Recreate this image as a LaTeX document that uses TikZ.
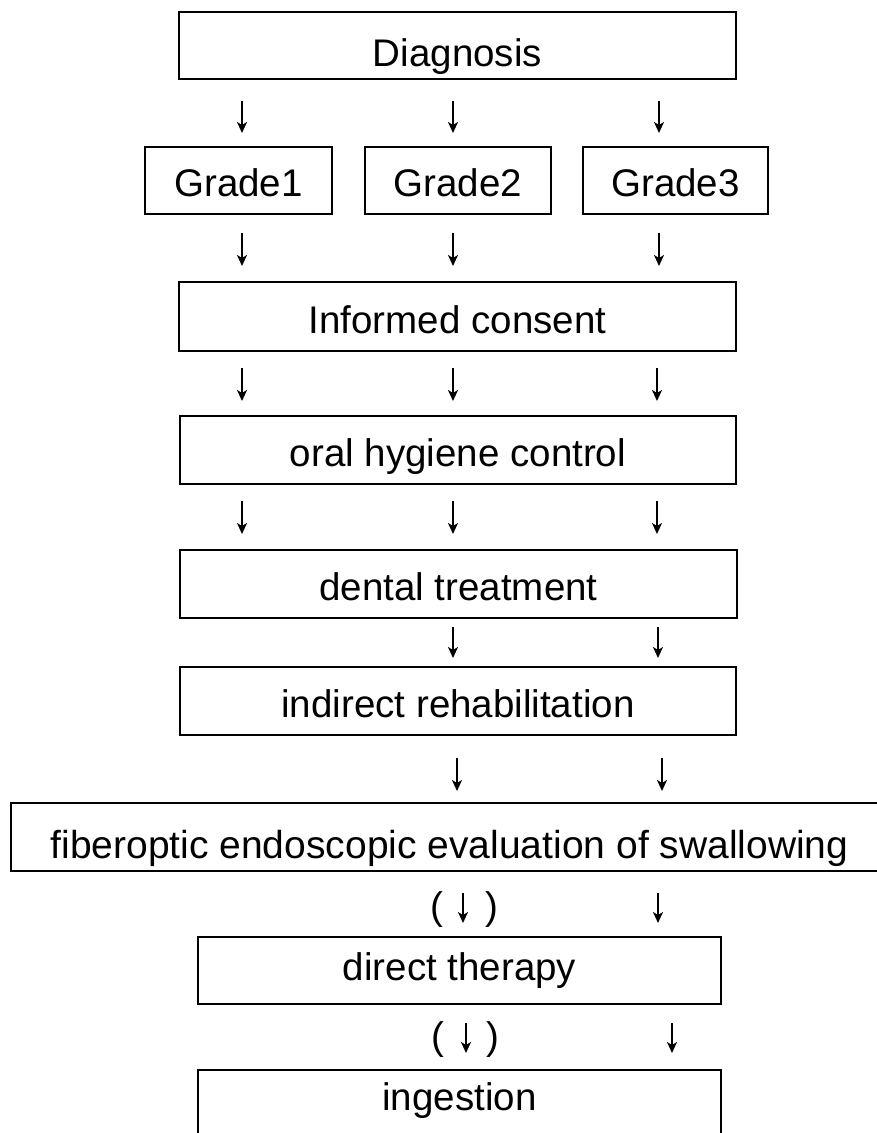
\documentclass[tikz,border=0pt]{standalone}
\usepackage{fontspec}
\setmainfont{Liberation Sans}
\usetikzlibrary{arrows.meta}
\begin{document}
\begin{tikzpicture}[x=1pt,y=-1pt,
  box/.style={draw, line width=2pt, inner sep=0pt, text depth=0pt,
    font=\fontsize{38.5}{40}\selectfont},
  arr/.style={line width=1.8pt, -{Stealth[length=11pt,width=10pt,inset=3pt]}},
  par/.style={inner sep=0pt, font=\fontsize{38.5}{40}\selectfont}]
\useasboundingbox[fill=white] (0,0) rectangle (877,1133);
% boxes
\node[box, minimum width=557pt, minimum height=67pt, text height=42pt] (diag) at (457.5,45.5) {Diagnosis};
\node[box, minimum width=187pt, minimum height=67pt, text height=32pt] (g1) at (238.5,180.5) {Grade1};
\node[box, minimum width=186pt, minimum height=67pt, text height=32pt] (g2) at (458,180.5) {Grade2};
\node[box, minimum width=185pt, minimum height=67pt, text height=32pt] (g3) at (675.5,180.5) {Grade3};
\node[box, minimum width=557pt, minimum height=69pt, text height=34pt] (ic) at (457.5,316.5) {Informed consent};
\node[box, minimum width=556pt, minimum height=68pt, text height=32pt] (oh) at (458,450) {oral hygiene control};
\node[box, minimum width=557pt, minimum height=68pt, text height=32pt] (dt) at (458.5,584) {dental treatment};
\node[box, minimum width=556pt, minimum height=68pt, text height=32pt] (ir) at (458,701) {indirect rehabilitation};
\node[box, minimum width=877pt, minimum height=68pt, text height=42pt,
  font=\fontsize{39}{41}\selectfont] (fe) at (449.5,837) {fiberoptic endoscopic evaluation of swallowing};
\node[box, minimum width=523pt, minimum height=67pt, text height=19pt] (dtp) at (459.5,970.5) {direct therapy};
\node[box, minimum width=523pt, minimum height=70pt, text height=10pt] (ing) at (459.5,1105) {ingestion};
% arrows
\foreach \n/\x/\a/\b in {
  a11/242/101/133, a12/453/101/133, a13/659/101/133,
  a21/242/233/266, a22/453/233/266, a23/659/233/266,
  a31/242/368/401, a32/453/368/401, a33/657/368/401,
  a41/242/501/534, a42/453/501/534, a43/657/501/534,
  a52/453/627/658, a53/658/627/658,
  a62/457/758/791, a63/662/758/791,
  a72/463/893/923, a73/658/893/923,
  a82/466/1023/1053, a83/672/1023/1053}{
  \coordinate (\n s) at (\x,\a);
  \coordinate (\n e) at (\x,\b);
  \draw[arr] (\n s) -- (\n e);
}
% parentheses
\node[par] (lp7) at (437,910) {(};
\node[par] (rp7) at (492,910) {)};
\node[par] (lp8) at (438,1040) {(};
\node[par] (rp8) at (493,1040) {)};
\end{tikzpicture}
\end{document}
